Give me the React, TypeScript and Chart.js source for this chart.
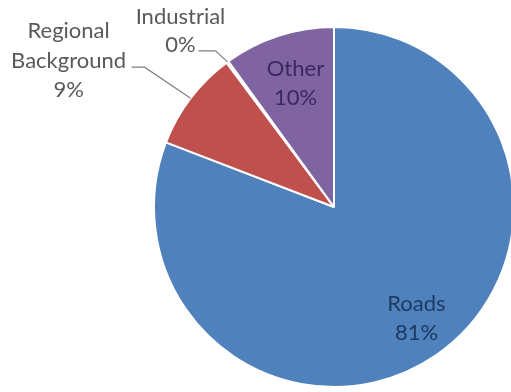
import React, { useEffect, useRef } from "react";
import { Chart, registerables } from "chart.js";

Chart.register(...registerables);

const categories = ["Roads", "Regional Background", "Industrial", "Other"];
const values = [81, 9, 0.2, 10];
const percentLabels = ["81%", "9%", "0%", "10%"];
const colors = ["#4F81BD", "#C0504D", "#9BBB59", "#8064A2"];

const FONT = "Lato, 'Open Sans', sans-serif";

const labelPlugin = {
  id: "pieLabels",
  afterDatasetsDraw(chart: any) {
    const ctx = chart.ctx;
    const meta = chart.getDatasetMeta(0);
    ctx.save();
    ctx.font = `22px ${FONT}`;
    ctx.textBaseline = "alphabetic";
    meta.data.forEach((arc: any, i: number) => {
      const { x, y, startAngle, endAngle, outerRadius } = arc.getProps(
        ["x", "y", "startAngle", "endAngle", "outerRadius"],
        true
      );
      const mid = (startAngle + endAngle) / 2;
      const name = categories[i];
      const pct = percentLabels[i];
      ctx.textAlign = "center";
      if (i === 0 || i === 3) {
        const f = i === 0 ? 0.76 : 0.73;
        const lx = x + Math.cos(mid) * outerRadius * f + (i === 0 ? 5 : 2);
        const ly = y + Math.sin(mid) * outerRadius * f + (i === 0 ? -3 : 0);
        ctx.fillStyle = i === 0 ? "#1E3A62" : "#3A295E";
        ctx.fillText(name, lx, ly - 6);
        ctx.fillText(pct, lx, ly + 23);
      } else {
        const ax = x + Math.cos(mid) * outerRadius;
        const ay = y + Math.sin(mid) * outerRadius;
        ctx.strokeStyle = "#7F7F7F";
        ctx.lineWidth = 1.2;
        ctx.fillStyle = "#595959";
        if (i === 1) {
          const bx = ax - 46;
          const by = ay - 31;
          ctx.beginPath();
          ctx.moveTo(ax, ay);
          ctx.lineTo(bx, by);
          ctx.lineTo(bx - 13, by);
          ctx.stroke();
          const tx = bx - 76;
          ctx.fillText("Regional", tx, by - 29);
          ctx.fillText("Background", tx, by + 1);
          ctx.fillText(pct, tx, by + 30);
        } else {
          const bx = ax - 12;
          const by = ay - 11;
          ctx.beginPath();
          ctx.moveTo(ax, ay);
          ctx.lineTo(bx, by);
          ctx.lineTo(bx - 17, by);
          ctx.stroke();
          ctx.fillText("Industrial", ax - 47, ay - 38);
          ctx.fillText(pct, ax - 47, ay - 10);
        }
      }
    });
    ctx.restore();
  },
};

export default function App() {
  const ref = useRef<HTMLCanvasElement | null>(null);
  useEffect(() => {
    document.body.style.margin = "0";
    const chart = new Chart(ref.current as HTMLCanvasElement, {
      type: "pie",
      data: {
        labels: categories,
        datasets: [
          {
            data: values,
            backgroundColor: colors,
            borderColor: "#FFFFFF",
            borderWidth: 2,
            hoverOffset: 0,
          },
        ],
      },
      options: {
        animation: false,
        responsive: false,
        layout: { padding: { left: 153, right: 0, top: 24, bottom: 2 } },
        plugins: {
          legend: { display: false },
          tooltip: { enabled: false },
        },
      },
      plugins: [labelPlugin],
    });
    return () => chart.destroy();
  }, []);
  return (
    <div style={{ position: "absolute", left: 0, top: 0, width: 511, height: 392, background: "#fff", overflow: "hidden" }}>
      <canvas ref={ref} width={515} height={392} style={{ width: 515, height: 392, display: "block" }} />
    </div>
  );
}
